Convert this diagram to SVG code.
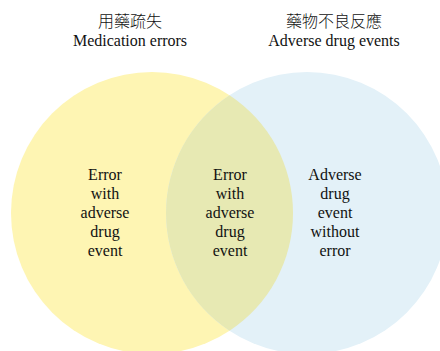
<svg xmlns="http://www.w3.org/2000/svg" width="440" height="351" viewBox="0 0 440 351">
<style>
  text { font-family: "Liberation Serif", "Noto Sans CJK TC", serif; font-size: 16px; fill: #111; text-anchor: middle; }
  .cjk { font-family: "Noto Sans CJK TC", "Liberation Serif", sans-serif; font-weight: 300; }
</style>
<rect width="440" height="351" fill="#ffffff"/>
<g id="set-medication-errors">
  <circle cx="152" cy="213" r="141" fill="#FEF5B3"/>
</g>
<g id="set-adverse-drug-events">
  <circle cx="307" cy="213" r="141" fill="#E3F1F8"/>
</g>
<g id="overlap">
  <path d="M229.5 95.2 A141 141 0 0 1 229.5 330.8 A141 141 0 0 1 229.5 95.2 Z" fill="#E7E9B3"/>
</g>
<g id="label-left">
  <text class="cjk" x="130" y="27">用藥疏失</text>
  <text x="130" y="46">Medication errors</text>
</g>
<g id="label-right">
  <text class="cjk" x="334" y="27">藥物不良反應</text>
  <text x="334" y="46">Adverse drug events</text>
</g>
<g id="region-left">
  <text x="105" y="180">Error</text>
  <text x="105" y="199">with</text>
  <text x="105" y="218">adverse</text>
  <text x="105" y="237">drug</text>
  <text x="105" y="256">event</text>
</g>
<g id="region-middle">
  <text x="230" y="180">Error</text>
  <text x="230" y="199">with</text>
  <text x="230" y="218">adverse</text>
  <text x="230" y="237">drug</text>
  <text x="230" y="256">event</text>
</g>
<g id="region-right">
  <text x="335" y="180">Adverse</text>
  <text x="335" y="199">drug</text>
  <text x="335" y="218">event</text>
  <text x="335" y="237">without</text>
  <text x="335" y="256">error</text>
</g>
<g id="connectors"></g>
</svg>
